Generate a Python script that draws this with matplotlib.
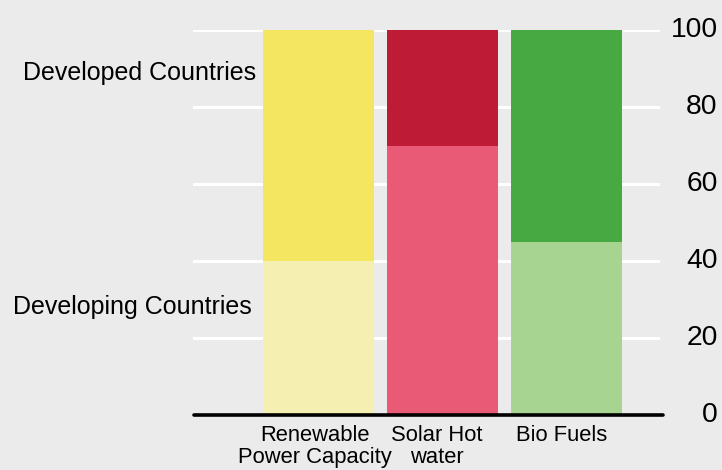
import matplotlib.pyplot as plt
import matplotlib.transforms as mtransforms

plt.rcParams['font.family'] = ['Liberation Sans', 'DejaVu Sans']

# Data (percent share)
categories = ["Renewable\nPower Capacity", "Solar Hot\nwater", "Bio Fuels"]
developing = [40, 70, 45]
developed = [60, 30, 55]
developing_colors = ["#f5f0b2", "#e85a76", "#a7d591"]
developed_colors = ["#f5e662", "#be1b37", "#47a942"]

bg = "#ebebeb"
fig = plt.figure(figsize=(7.22, 4.70), dpi=100, facecolor=bg)
ax = fig.add_axes([193 / 722, 55 / 470, 467 / 722, 385 / 470])
ax.set_facecolor(bg)

x = list(range(len(categories)))
width = 111 / 124

# white gridlines behind bars
for v in [20, 40, 60, 80, 100]:
    ax.axhline(v, color="white", lw=2.2, zorder=0, solid_capstyle="round")

ax.bar(x, developing, width, color=developing_colors, zorder=2)
ax.bar(x, developed, width, bottom=developing, color=developed_colors, zorder=2)

ax.plot([-1.0, 2.78], [0, 0], color="black", lw=2.6, zorder=3,
        solid_capstyle="round", clip_on=False)

ax.set_xlim(-1.012, 2.758)
ax.set_ylim(0, 100)

for s in ax.spines.values():
    s.set_visible(False)

ax.yaxis.tick_right()
ax.set_yticks([0, 20, 40, 60, 80, 100])
ax.tick_params(axis="y", length=0, pad=41.5, labelsize=20.3)
shift = mtransforms.ScaledTranslation(0, 3 / 100, fig.dpi_scale_trans)
for lbl in ax.get_yticklabels():
    lbl.set_horizontalalignment("right")
    lbl.set_transform(lbl.get_transform() + shift)

# category labels under the bars (slightly off-centre as in the original)
ax.set_xticks([])
label_dx = [-0.03, -0.045, -0.04]
for xi, name, dx in zip(x, categories, label_dx):
    ax.text(xi + dx, -2.6, name, ha="center", va="top", multialignment="center",
            fontsize=15.8, linespacing=1.08, clip_on=False)

ax.text(-0.505, 88.8, "Developed Countries", ha="right", va="center",
        fontsize=18, clip_on=False)
ax.text(-0.535, 28, "Developing Countries", ha="right", va="center",
        fontsize=18, clip_on=False)

fig.savefig("out.png", dpi=100, facecolor=bg)
